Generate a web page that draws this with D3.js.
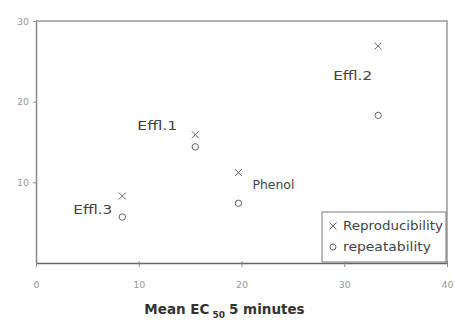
<!DOCTYPE html>
<html>
<head>
<meta charset="utf-8">
<script src="https://cdn.jsdelivr.net/npm/d3@7"></script>
<style>
  body { margin: 0; background: #fff; }
  text { font-family: "DejaVu Sans", Verdana, sans-serif; }
</style>
</head>
<body>
<div id="chart"></div>
<script>
// samples and values
var samples = ["Effl.3", "Effl.1", "Phenol", "Effl.2"];
var meanEC50 = [8.4, 15.5, 19.7, 33.3];
var reproducibility = [8.3, 15.9, 11.2, 26.9];
var repeatability = [5.7, 14.4, 7.4, 18.3];
var xTicks = [0, 10, 20, 30, 40];
var yTicks = [10, 20, 30];

var margin = {top: 21, right: 8, bottom: 59, left: 36};
var W = 455, H = 322;
var width = W - margin.left - margin.right;
var height = H - margin.top - margin.bottom;

var svg = d3.select("#chart").append("svg")
    .attr("width", W)
    .attr("height", H)
    .append("g")
    .attr("transform", "translate(" + margin.left + "," + margin.top + ")");

var xScale = d3.scaleLinear().domain([0, 40]).range([0, width]);
var yScale = d3.scaleLinear().domain([0, 30]).range([height, 0]);

var axisCol = "#8a8a8a";

// frame (top + right)
svg.append("path")
    .attr("d", "M0,0H" + width + "V" + height)
    .attr("fill", "none").attr("stroke", "#9a9a9a").attr("stroke-width", 1.5);

// x axis
var xAxis = d3.axisBottom(xScale).tickValues(xTicks).tickSize(4).tickSizeOuter(0);
var gx = svg.append("g").attr("transform", "translate(0," + height + ")").call(xAxis);
gx.select(".domain").attr("stroke", "#666").attr("stroke-width", 1.5);
gx.selectAll(".tick line").attr("stroke", axisCol).attr("y1", -2);
gx.selectAll(".tick text").attr("fill", "#999").attr("font-size", 9.5).attr("dy", "1.9em");

// y axis
var yAxis = d3.axisLeft(yScale).tickValues(yTicks).tickSize(3).tickSizeOuter(0);
var gy = svg.append("g").call(yAxis);
gy.select(".domain").attr("stroke", axisCol).attr("stroke-width", 1.5);
gy.selectAll(".tick line").attr("stroke", axisCol);
gy.selectAll(".tick text").attr("fill", "#999").attr("font-size", 9.5).attr("x", -7);

// x axis title with subscript
var title = svg.append("text")
    .attr("x", width / 2 - 17)
    .attr("y", height + 51)
    .attr("text-anchor", "middle")
    .attr("font-weight", "bold")
    .attr("font-size", 13.5)
    .attr("fill", "#333");
title.append("tspan").text("Mean EC");
title.append("tspan").attr("font-size", 9).attr("dy", 4).attr("dx", 3).text("50");
title.append("tspan").attr("dy", -4).attr("dx", 4).text("5 minutes");

// markers
function cross(g, cx, cy, s) {
    g.append("path")
        .attr("d", "M" + (cx - s) + "," + (cy - s) + "L" + (cx + s) + "," + (cy + s) +
                   "M" + (cx - s) + "," + (cy + s) + "L" + (cx + s) + "," + (cy - s))
        .attr("stroke", "#666").attr("stroke-width", 1).attr("fill", "none");
}
function ring(g, cx, cy, r) {
    g.append("circle").attr("cx", cx).attr("cy", cy).attr("r", r)
        .attr("fill", "none").attr("stroke", "#666").attr("stroke-width", 1);
}

var pts = svg.append("g");
meanEC50.forEach(function(d, i) {
    cross(pts, xScale(d), yScale(reproducibility[i]), 3.5);
    ring(pts, xScale(d), yScale(repeatability[i]), 3.2);
});

// point labels
var labelDx = [-10, -18, 14, -6];
var labelY = [6.1, 16.5, 9.2, 22.7];
var labelAnchor = ["end", "end", "start", "end"];
var labelLen = [39, 40, 42, 39];
samples.forEach(function(s, i) {
    svg.append("text")
        .attr("x", xScale(meanEC50[i]) + labelDx[i])
        .attr("y", yScale(labelY[i]))
        .attr("text-anchor", labelAnchor[i])
        .attr("font-size", 12)
        .attr("fill", "#444")
        .attr("textLength", labelLen[i])
        .attr("lengthAdjust", "spacingAndGlyphs")
        .text(s);
});

// legend
var lg = svg.append("g").attr("transform", "translate(" + (322 - margin.left) + "," + (212 - margin.top) + ")");
lg.append("rect").attr("width", 124).attr("height", 50)
    .attr("fill", "#fff").attr("stroke", "#777").attr("stroke-width", 1);
cross(lg, 11, 14, 3.5);
ring(lg, 11, 35, 3);
lg.append("text").attr("x", 21).attr("y", 18).attr("font-size", 11.5).attr("fill", "#444")
    .attr("textLength", 100).attr("lengthAdjust", "spacingAndGlyphs").text("Reproducibility");
lg.append("text").attr("x", 21).attr("y", 39).attr("font-size", 11.5).attr("fill", "#444")
    .attr("textLength", 88).attr("lengthAdjust", "spacingAndGlyphs").text("repeatability");
</script>
</body>
</html>
